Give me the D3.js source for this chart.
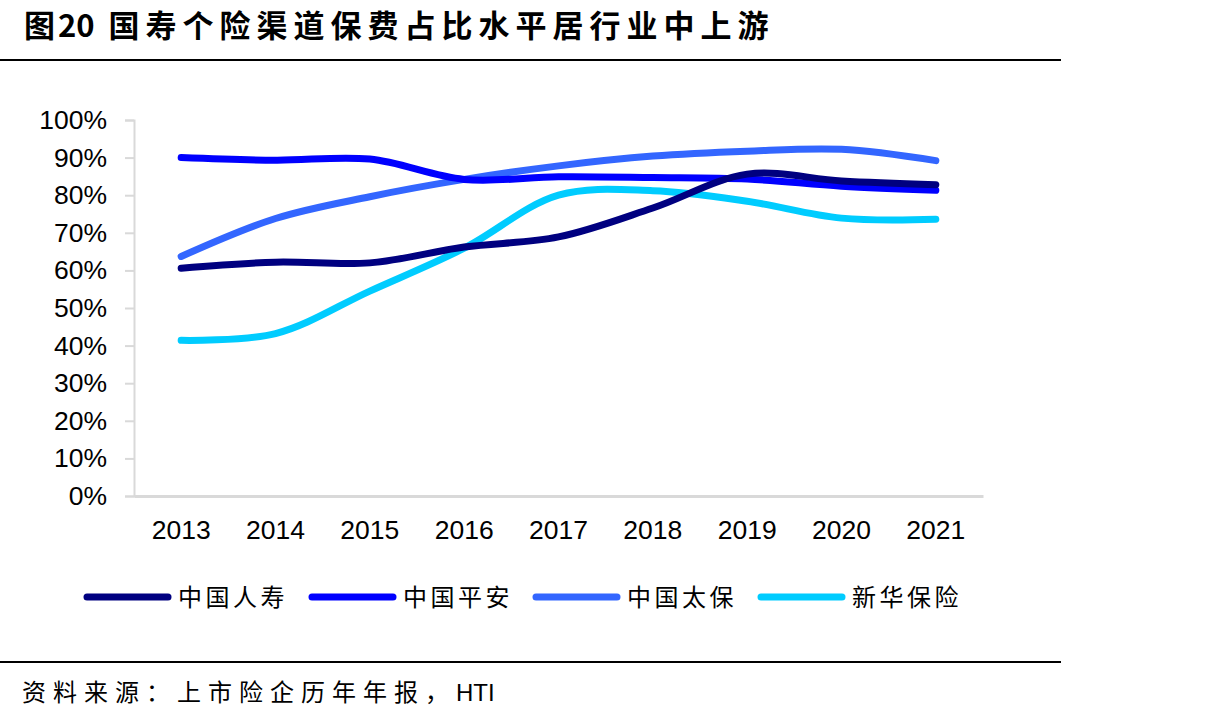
<!DOCTYPE html>
<html>
<head>
<meta charset="utf-8">
<script src="https://cdn.jsdelivr.net/npm/d3@7"></script>
<style>
  body { margin: 0; background: #fff; }
  svg text { fill: #000; }
</style>
</head>
<body>
<svg id="chart"></svg>
<script>
// chart data
const years = ['2013', '2014', '2015', '2016', '2017', '2018', '2019', '2020', '2021'];
const seriesNames = ['中国人寿', '中国平安', '中国太保', '新华保险'];
const chinaLife = [0.606, 0.622, 0.620, 0.662, 0.689, 0.766, 0.856, 0.838, 0.828];
const pingAn = [0.900, 0.893, 0.896, 0.842, 0.849, 0.847, 0.843, 0.824, 0.813];
const cpic = [0.637, 0.738, 0.796, 0.842, 0.878, 0.904, 0.917, 0.922, 0.892];
const newChina = [0.414, 0.432, 0.545, 0.659, 0.800, 0.812, 0.784, 0.739, 0.736];
const yTicks = [0, 0.1, 0.2, 0.3, 0.4, 0.5, 0.6, 0.7, 0.8, 0.9, 1.0];
const colors = ['#000080', '#0000ff', '#3366ff', '#00ccff'];

const width = 1229;
const height = 723;

const svg = d3.select('#chart').attr('width', width).attr('height', height);

// title + rules
const title = svg.append('text')
    .attr('x', 24).attr('y', 37)
    .attr('font-family', '"Noto Sans CJK SC", sans-serif')
    .attr('font-weight', 'bold')
    .attr('font-size', 31);
title.append('tspan').attr('letter-spacing', 3).text('图');
title.append('tspan').text('20');
title.append('tspan').attr('dx', 14).attr('letter-spacing', 6).text('国寿个险渠道保费占比水平居行业中上游');

svg.append('line').attr('x1', 0).attr('x2', 1061).attr('y1', 60).attr('y2', 60)
    .attr('stroke', '#000').attr('stroke-width', 2);
svg.append('line').attr('x1', 0).attr('x2', 1061).attr('y1', 662).attr('y2', 662)
    .attr('stroke', '#000').attr('stroke-width', 2);

const source = svg.append('text')
    .attr('x', 22).attr('y', 701)
    .attr('font-family', '"Noto Sans CJK SC", sans-serif')
    .attr('font-size', 24);
source.append('tspan').attr('letter-spacing', 7).text('资料来源：上市险企历年年报，');
source.append('tspan').attr('font-family', '"Liberation Sans", Arial, sans-serif').text('HTI');

// scales
const x = d3.scaleBand().domain(years).range([134, 983]);
const y = d3.scaleLinear().domain([0, 1]).range([496, 120]);

// y axis
const yAxis = svg.append('g')
    .attr('transform', 'translate(134,0)')
    .call(d3.axisLeft(y).tickValues(yTicks).tickFormat(d3.format('.0%')).tickSize(9).tickPadding(18));
yAxis.select('.domain').attr('stroke', '#d9d9d9').attr('stroke-width', 2);
yAxis.selectAll('.tick line').attr('stroke', '#d9d9d9').attr('stroke-width', 2);
yAxis.selectAll('.tick text')
    .attr('font-family', '"Liberation Sans", Arial, sans-serif')
    .attr('font-size', 26.5)
    .attr('fill', '#000');

// x axis
const xAxis = svg.append('g')
    .attr('transform', 'translate(0,496)')
    .call(d3.axisBottom(x).tickSize(0).tickPadding(24).tickSizeOuter(0));
xAxis.select('.domain').attr('stroke', '#d9d9d9').attr('stroke-width', 3);
xAxis.selectAll('.tick text')
    .attr('font-family', '"Liberation Sans", Arial, sans-serif')
    .attr('font-size', 26.5)
    .attr('fill', '#000');

// lines
const allSeries = [chinaLife, pingAn, cpic, newChina];
const line = d3.line()
    .x((d, i) => x(years[i]) + x.bandwidth() / 2)
    .y(d => y(d))
    .curve(d3.curveCatmullRom.alpha(0.5));

// draw order: light blue series under darker ones
const drawOrder = [3, 2, 1, 0];
drawOrder.forEach(i => {
    svg.append('path')
        .datum(allSeries[i])
        .attr('d', line)
        .attr('fill', 'none')
        .attr('stroke', colors[i])
        .attr('stroke-width', 7)
        .attr('stroke-linecap', 'round')
        .attr('stroke-linejoin', 'round');
});

// legend
const legendX = [87, 312, 536, 761];
const legend = svg.append('g');
seriesNames.forEach((name, i) => {
    legend.append('line')
        .attr('x1', legendX[i]).attr('x2', legendX[i] + 81)
        .attr('y1', 597).attr('y2', 597)
        .attr('stroke', colors[i])
        .attr('stroke-width', 7)
        .attr('stroke-linecap', 'round');
    legend.append('text')
        .attr('x', legendX[i] + 91).attr('y', 606)
        .attr('font-family', '"Noto Sans CJK SC", sans-serif')
        .attr('font-size', 24)
        .attr('letter-spacing', 3.5)
        .text(name);
});
</script>
</body>
</html>
